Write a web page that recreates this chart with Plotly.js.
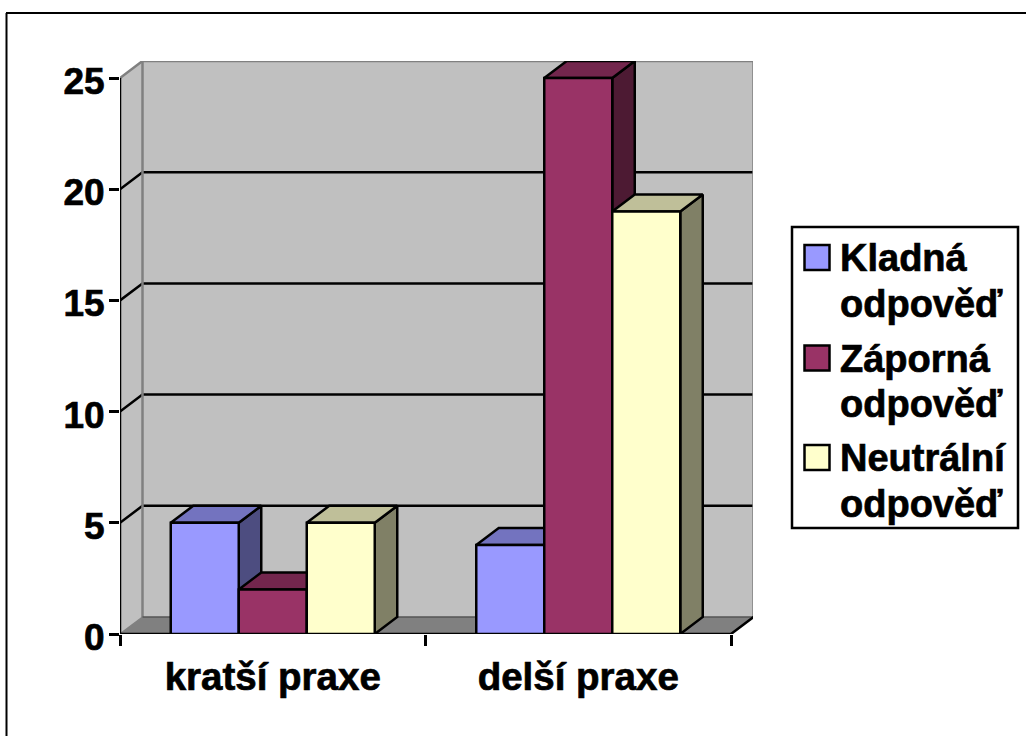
<!DOCTYPE html>
<html>
<head>
<meta charset="utf-8">
<script src="https://cdn.plot.ly/plotly-3.0.1.min.js"></script>
<style>
html,body{margin:0;padding:0;background:#fff}
.xtick text,.ytick text,.annotation-text{stroke:#000;stroke-width:.7px}
</style>
</head>
<body>
<div id="chart" style="width:1026px;height:736px"></div>
<script>
const categories = ['kratší praxe', 'delší praxe'];
const seriesNames = ['Kladná odpověď', 'Záporná odpověď', 'Neutrální odpověď'];
const kladna = [5, 4];
const zaporna = [2, 25];
const neutralni = [5, 19];
const frontColors = ['#9999FF', '#993366', '#FFFFCC'];
const topColors = ['#7373BF', '#73264D', '#BFBF99'];
const sideColors = ['#4D4D80', '#4D1A33', '#808066'];
const yTicks = [0, 5, 10, 15, 20, 25];
const xPositions = [0.5, 1.5];
const xBoundaries = [0, 1, 2];

const seriesValues = [kladna, zaporna, neutralni];
const font = 'Liberation Sans, Arial, sans-serif';
const W = 1026, H = 736;
const L = 120, R = 753, T = 61, B = 634;
const pxPerX = 305.5, pxPerY = 22.24;
const dx = 22.5 / pxPerX, dy = 17 / pxPerY;
const barW = 68 / pxPerX;
const xMax = 2, yMax = 25;
const xRange = [0, (R - L) / pxPerX];
const yRange = [0, (B - T) / pxPerY];

const traces = [];
const poly = (x, y, fill, line, width) => traces.push({
  type: 'scatter', mode: width ? 'lines' : 'none', x, y, fill: 'toself', fillcolor: fill,
  line: {color: line || fill, width: width || 0}, cliponaxis: false,
  hoverinfo: 'skip', showlegend: false, xaxis: 'x', yaxis: 'y'
});
const seg = (x, y, color, width) => traces.push({
  type: 'scatter', mode: 'lines', x, y, line: {color, width}, cliponaxis: false,
  hoverinfo: 'skip', showlegend: false, xaxis: 'x', yaxis: 'y'
});

// walls and floor
poly([0, dx, dx, 0, 0], [0, dy, yMax + dy, yMax, 0], '#C0C0C0');
poly([dx, xMax + dx, xMax + dx, dx, dx], [dy, dy, yMax + dy, yMax + dy, dy], '#C0C0C0');
poly([0, xMax, xMax + dx, dx, 0], [0, 0, dy, dy, 0], '#808080');
// grid lines on the walls
yTicks.filter(v => v > 0 && v < yMax).forEach(v => seg([0, dx, xMax + dx], [v, v + dy, v + dy], '#000000', 2.5));
// wall borders
seg([0, dx, xMax + dx, xMax + dx], [yMax, yMax + dy, yMax + dy, dy], '#808080', 2.5);
seg([dx, dx], [dy, yMax + dy], '#808080', 2.5);
seg([0, dx], [0, dy], '#808080', 1.5);
seg([dx, xMax + dx], [dy, dy], '#555555', 1.5);
// axis lines
seg([0, 0], [0, yMax], '#000000', 2.5);
seg([0, xMax, xMax + dx], [0, 0, dy], '#000000', 2.5);

// depth faces of the bars, back to front
seriesValues.forEach((vals, s) => {
  vals.forEach((v, c) => {
    const x0 = xPositions[c] + (s - 1.5) * barW, x1 = x0 + barW;
    poly([x1, x1 + dx, x1 + dx, x1, x1], [0, dy, v + dy, v, 0], sideColors[s], '#000000', 2.5);
    poly([x0, x0 + dx, x1 + dx, x1, x0], [v, v + dy, v + dy, v, v], topColors[s], '#000000', 2.5);
  });
});

// front faces of the bars
seriesValues.forEach((vals, s) => traces.push({
  type: 'bar', name: seriesNames[s], x: xPositions, y: vals, xaxis: 'x2', yaxis: 'y2',
  marker: {color: frontColors[s], line: {color: '#000000', width: 2.5}},
  cliponaxis: false, showlegend: false, hoverinfo: 'name+y'
}));

const fx = x => (x - L) / (R - L);
const fy = y => (B - y) / (B - T);
const shapes = [
  {type: 'line', xref: 'paper', yref: 'paper', x0: fx(6.5), x1: fx(6.5), y0: fy(13), y1: fy(H + 2), line: {color: '#000', width: 2}},
  {type: 'line', xref: 'paper', yref: 'paper', x0: fx(6), x1: fx(W + 2), y0: fy(13), y1: fy(13), line: {color: '#000', width: 2}},
  {type: 'rect', xref: 'paper', yref: 'paper', x0: fx(792), x1: fx(1018), y0: fy(227), y1: fy(528), line: {color: '#000', width: 2.5}, fillcolor: '#fff'}
];
const annotations = [];
const legendBase = [270, 370.5, 470];
const lineGap = 46;
seriesNames.forEach((name, s) => {
  shapes.push({type: 'rect', xref: 'paper', yref: 'paper', x0: fx(804.5), x1: fx(829.5),
    y0: fy(legendBase[s] - 25), y1: fy(legendBase[s]), line: {color: '#000', width: 2.5}, fillcolor: frontColors[s]});
  name.split(' ').forEach((word, i) => annotations.push({
    xref: 'paper', yref: 'paper', x: fx(839), y: fy(legendBase[s] + i * lineGap - 12),
    xanchor: 'left', yanchor: 'middle', showarrow: false, text: '<b>' + word + '</b>',
    borderpad: 0, font: {family: font, size: 38, color: '#000'}
  }));
});

const layout = {
  width: W, height: H, autosize: false,
  margin: {l: L, r: W - R, t: T, b: H - B, pad: 0},
  paper_bgcolor: '#FFFFFF', plot_bgcolor: '#FFFFFF',
  showlegend: false, barmode: 'group', bargap: 1 - 3 * barW, bargroupgap: 0,
  font: {family: font, color: '#000'},
  xaxis: {
    type: 'linear', range: xRange, fixedrange: true, showgrid: false, zeroline: false, showline: false,
    tickmode: 'array', tickvals: xPositions, ticktext: categories.map(c => '<b>' + c + '</b>'),
    ticks: '', tickangle: 0, tickfont: {family: font, size: 38.5, color: '#000'}, ticklabelstandoff: 16,
    minor: {tickmode: 'array', tickvals: xBoundaries, ticks: 'outside', ticklen: 11, tickwidth: 2.5, tickcolor: '#000', showgrid: false}
  },
  yaxis: {
    type: 'linear', range: yRange, fixedrange: true, showgrid: false, zeroline: false, showline: false,
    tickmode: 'array', tickvals: yTicks, ticktext: yTicks.map(v => '<b>' + v + '</b>'),
    ticks: 'outside', ticklen: 10, tickwidth: 2.5, tickcolor: '#000',
    tickfont: {family: font, size: 37, color: '#000'}, ticklabelstandoff: -3, ticklabelshift: 3
  },
  xaxis2: {type: 'linear', overlaying: 'x', range: xRange, visible: false, fixedrange: true},
  yaxis2: {type: 'linear', overlaying: 'y', range: yRange, visible: false, fixedrange: true},
  shapes, annotations
};
Plotly.newPlot('chart', traces, layout, {displayModeBar: false, responsive: false});
</script>
</body>
</html>
